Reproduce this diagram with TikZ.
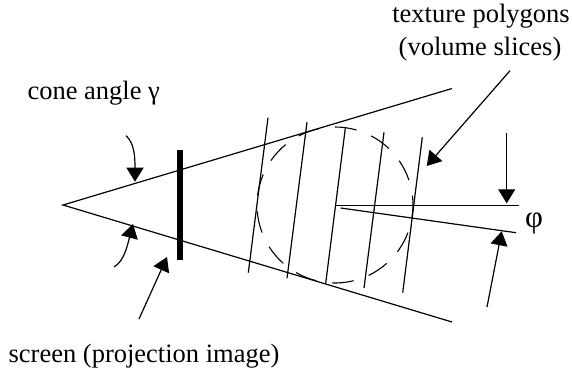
\documentclass[tikz,border=0pt]{standalone}
\usepackage{fontspec}
\setmainfont{Liberation Serif}
\usetikzlibrary{arrows.meta,calc}
\tikzset{
  ln/.style={line width=1.2pt,black},
  ptr/.style={ln,-{Triangle[length=14pt,width=17pt]}},
  lbl/.style={inner sep=0pt,anchor=base,font=\fontsize{26.5}{30}\selectfont},
  biglbl/.style={inner sep=0pt,anchor=base,font=\fontsize{31}{34}\selectfont},
  screenbar/.style={line width=6.5pt,black},
  dsh/.style={line width=1.1pt,black}
}
\begin{document}
\begin{tikzpicture}[x=1pt,y=1pt]
\useasboundingbox (0,0) rectangle (572,-375);
% labels
\node[lbl] (tp) at (481,-22.7) {texture polygons};
\node[lbl] (vs) at (480,-55) {(volume slices)};
\node[lbl] (ca) at (93.7,-99.3) {cone angle γ};
\node[lbl] (sc) at (144,-362) {screen (projection image)};
\node[biglbl] (ph) at (534,-227) {φ};
% cone
\coordinate (apex) at (63,-205);
\coordinate (ctop) at (452,-88.5);
\coordinate (cbot) at (452,-322);
\draw[ln,line join=miter] (ctop) -- (apex) -- (cbot);
% screen
\coordinate (s1) at (180,-150);
\coordinate (s2) at (180,-260);
\draw[screenbar] (s1) -- (s2);
% slices
\foreach \n/\xa/\ya/\xb/\yb in {1/268/-117.7/248.3/-272.7,2/307/-122.3/287/-278.3,3/345.3/-128.3/325.7/-283.3,4/384/-132.3/364/-288,5/422.3/-137.3/402.7/-292.7}{
  \coordinate (sa\n) at (\xa,\ya);
  \coordinate (sb\n) at (\xb,\yb);
  \draw[ln] (sa\n) -- (sb\n);
}
% dashed sphere
\coordinate (ctr) at (335,-205);
\foreach \a in {0,...,12}{
  \pgfmathsetmacro{\st}{90-27.7*\a}
  \draw[dsh] ($(ctr)+(\st:78)$) arc[start angle=\st,delta angle=-16,radius=78];
}
% angle lines
\coordinate (p0) at (335,-205.5);
\coordinate (p1) at (519.3,-205.5);
\coordinate (q0) at (340.7,-208);
\coordinate (q1) at (516,-232.7);
\draw[ln] (p0) -- (p1);
\draw[ln] (q0) -- (q1);
% pointers
\coordinate (a1s) at (126,-135.7);
\coordinate (a1t) at (135,-181.7);
\draw[ptr] (a1s) .. controls (134,-143) and (135,-155) .. (a1t);
\coordinate (a2s) at (114,-267);
\coordinate (a2t) at (133,-224);
\draw[ptr] (a2s) .. controls (124,-261) and (127,-247) .. (a2t);
\coordinate (a3s) at (139,-319);
\coordinate (a3t) at (167,-257);
\draw[ptr] (a3s) -- (a3t);
\coordinate (a4s) at (510,-70.7);
\coordinate (a4t) at (426.7,-166);
\draw[ptr] (a4s) -- (a4t);
\coordinate (a5s) at (506.7,-133.3);
\coordinate (a5t) at (506.7,-203.3);
\draw[ptr] (a5s) -- (a5t);
\coordinate (a6s) at (487,-307);
\coordinate (a6t) at (501.7,-231.3);
\draw[ptr] (a6s) -- (a6t);
\end{tikzpicture}
\end{document}
